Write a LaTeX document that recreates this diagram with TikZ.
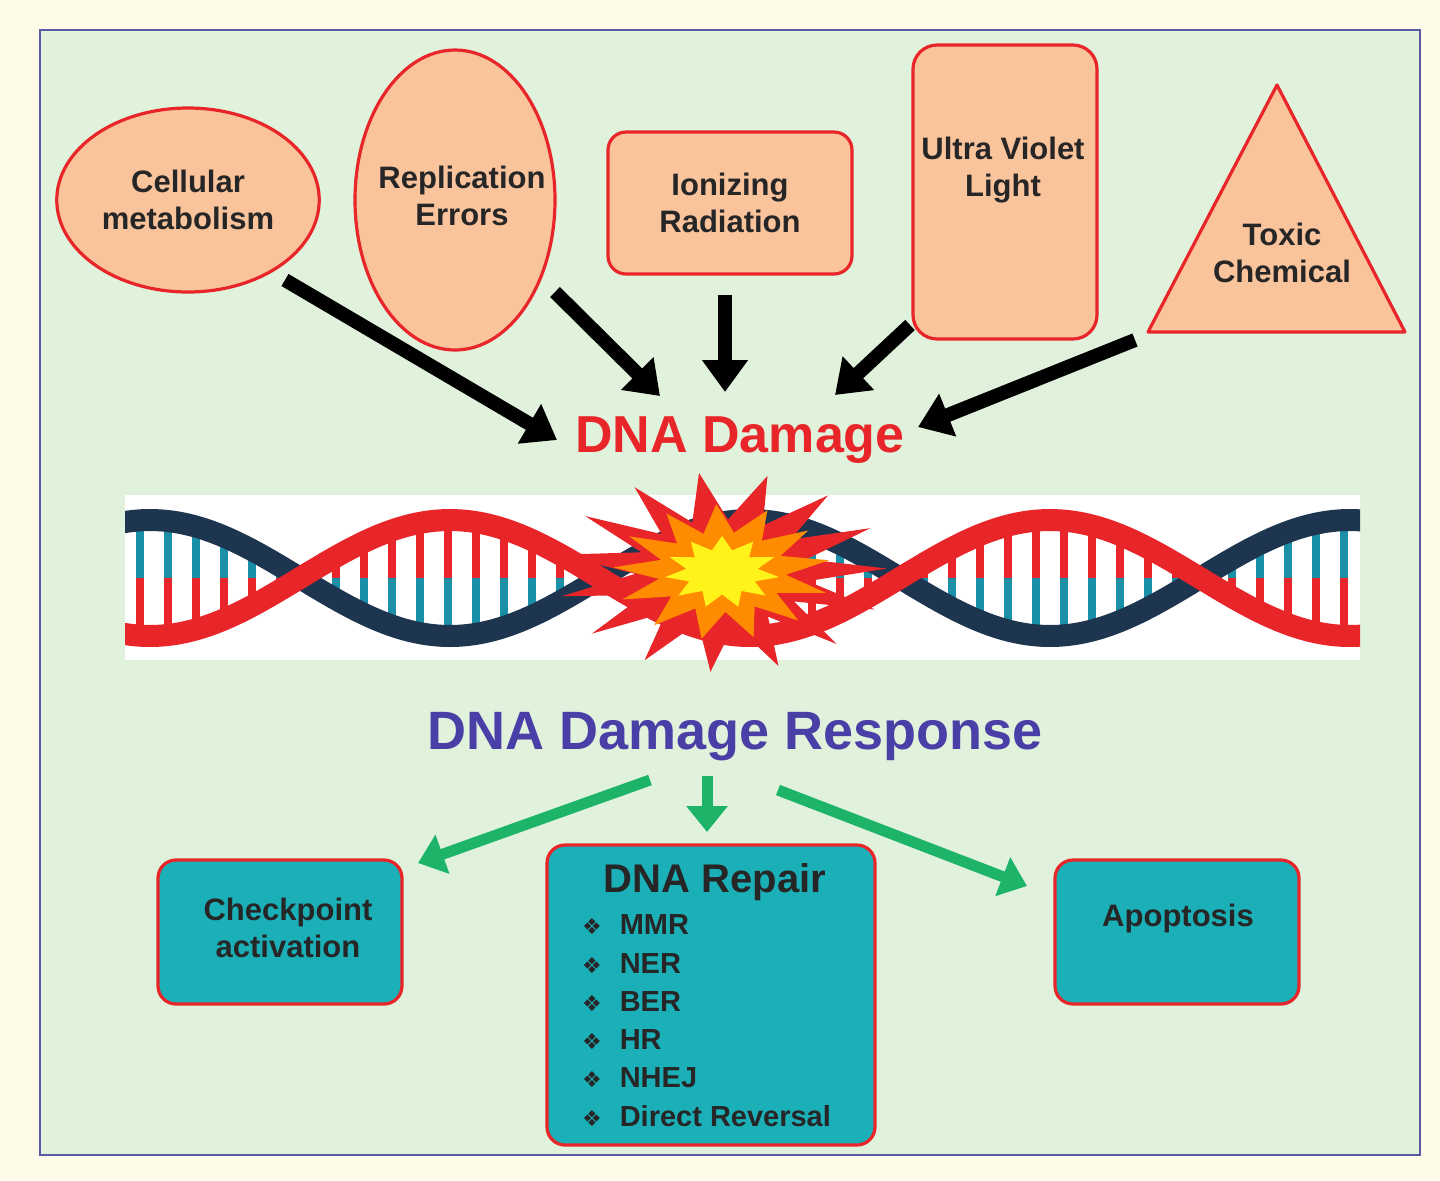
\documentclass[tikz,border=0pt]{standalone}
\usepackage{fontspec}
\setmainfont{Liberation Sans}
\newfontfamily\djv{DejaVu Sans}
\usetikzlibrary{shapes.geometric,arrows.meta}
\definecolor{cream}{HTML}{FDFBE8}
\definecolor{panel}{HTML}{E1F2DC}
\definecolor{peach}{HTML}{F9C39C}
\definecolor{bred}{HTML}{E8262A}
\definecolor{teal}{HTML}{1BB0B8}
\definecolor{dgreen}{HTML}{1DB46A}
\definecolor{purp}{HTML}{4A3FA6}
\definecolor{navy}{HTML}{1E3550}
\definecolor{strandteal}{HTML}{1A8FA8}
\begin{document}
\begin{tikzpicture}[x=0.5pt,y=-0.5pt,
  lab/.style={font=\bfseries\fontsize{15.5}{18.5}\selectfont,align=center,text=black!85},
  src/.style={draw=bred,line width=1.6pt,fill=peach,lab},
  res/.style={draw=bred,line width=1.6pt,fill=teal,rounded corners=9pt,lab},
  barr/.style={-{Triangle[length=16pt,width=22pt]},line width=7pt,black},
  garr/.style={-{Triangle[length=13pt,width=20pt]},line width=5.5pt,dgreen}]
\useasboundingbox (0,0) rectangle (1440,1180);
\fill[cream] (0,0) rectangle (1440,1180);
\draw[fill=panel,draw=blue!30!gray,line width=1pt] (40,30) rectangle (1420,1155);
% sources
\node[src,ellipse,minimum width=122pt,minimum height=92pt] (cm) at (188,200) {Cellular\\metabolism};
\node[src,ellipse,minimum width=100pt,minimum height=150pt] (re) at (455,200) {};
\node[lab] (ret) at (462,196) {Replication\\Errors};
\node[src,rounded corners=9pt,minimum width=122pt,minimum height=71pt] (ir) at (730,203) {Ionizing\\Radiation};
\node[src,rounded corners=12pt,minimum width=92pt,minimum height=147pt] (uv) at (1005,192) {};
\node[lab] (uvt) at (1003,170) {Ultra Violet\\Light};
\coordinate (t1) at (1277,85); \coordinate (t2) at (1405,332); \coordinate (t3) at (1148,332);
\draw[draw=bred,line width=1.6pt,fill=peach,line join=round] (t1)--(t2)--(t3)--cycle;
\node[lab] (tc) at (1282,253) {Toxic\\Chemical};
% DNA damage
\node[text=bred,font=\bfseries\fontsize{26}{30}\selectfont] (dd) at (740,440) {DNA Damage};
\coordinate (a1s) at (285,280); \coordinate (a1e) at (557,440);
\coordinate (a2s) at (555,292); \coordinate (a2e) at (660,396);
\coordinate (a3s) at (725,295); \coordinate (a3e) at (725,392);
\coordinate (a4s) at (910,325); \coordinate (a4e) at (835,395);
\coordinate (a5s) at (1135,340); \coordinate (a5e) at (918,427);
\foreach \s/\e in {a1s/a1e,a2s/a2e,a3s/a3e,a4s/a4e,a5s/a5e} \draw[barr] (\s)--(\e);
% DNA band
\fill[white] (125,495) rectangle (1360,660);
\begin{scope}
\clip (125,495) rectangle (1360,660);
\foreach \x in {140,168,...,1360}{
  \pgfmathsetmacro{\ya}{578+58*cos(0.6*(\x-150))}
  \pgfmathsetmacro{\yb}{578-58*cos(0.6*(\x-150))}
  \draw[line width=4pt,bred] (\x,\ya)--(\x,578);
  \draw[line width=4pt,strandteal] (\x,578)--(\x,\yb);
}
\draw[line width=11pt,navy] plot[domain=110:1380,samples=200] (\x,{578-58*cos(0.6*(\x-150))});
\draw[line width=11pt,bred] plot[domain=110:1380,samples=200] (\x,{578+58*cos(0.6*(\x-150))});
\end{scope}
\node[star,star points=15,star point ratio=1.9,fill=bred,minimum size=100pt,inner sep=0pt,xscale=1.65,rotate=8] (ex1) at (722,572) {};
\node[star,star points=13,star point ratio=1.7,fill=orange!90!yellow,minimum size=68pt,inner sep=0pt,xscale=1.6,rotate=3] (ex2) at (722,572) {};
\node[star,star points=11,star point ratio=1.6,fill=yellow!90!white,minimum size=36pt,inner sep=0pt,xscale=1.6] (ex3) at (722,572) {};
% response
\node[text=purp,font=\bfseries\fontsize{27}{32}\selectfont] (ddr) at (735,737) {DNA Damage Response};
\node[res,minimum width=122pt,minimum height=72pt] (cp) at (280,932) {};
\node[lab] (cpt) at (288,928) {Checkpoint\\activation};
\node[res,minimum width=164pt,minimum height=150pt] (rp) at (711,995) {};
\node[font=\bfseries\fontsize{20}{24}\selectfont,text=black!85] (rpt) at (715,882) {DNA Repair};
\foreach \t [count=\i from 0] in {MMR,NER,BER,HR,NHEJ,Direct Reversal}{
  \node[anchor=west,font=\bfseries\fontsize{14.5}{17}\selectfont,text=black!85] (it\i) at (575,925+38.2*\i) {{\djv\fontsize{11}{13}\selectfont ❖}\hspace{9pt}\t};
}
\node[res,minimum width=122pt,minimum height=72pt] (ap) at (1177,932) {};
\node[lab] (apt) at (1178,918) {Apoptosis};
\coordinate (g1s) at (650,780); \coordinate (g1e) at (418,863);
\coordinate (g2s) at (707,776); \coordinate (g2e) at (707,832);
\coordinate (g3s) at (778,790); \coordinate (g3e) at (1027,886);
\foreach \s/\e in {g1s/g1e,g2s/g2e,g3s/g3e} \draw[garr] (\s)--(\e);
\end{tikzpicture}
\end{document}
